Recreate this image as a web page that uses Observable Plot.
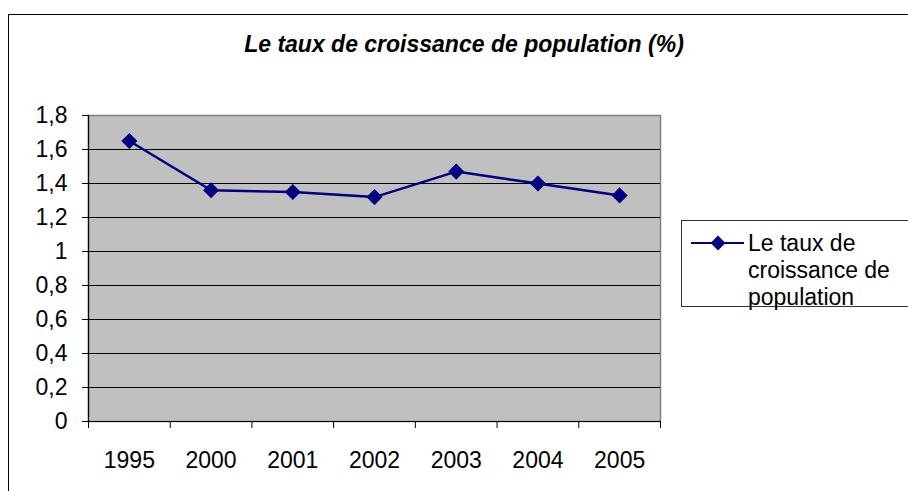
<!DOCTYPE html>
<html>
<head>
<meta charset="utf-8">
<script src="https://cdn.jsdelivr.net/npm/d3@7"></script>
<script src="https://cdn.jsdelivr.net/npm/@observablehq/plot@0.6"></script>
<style>
  html, body { margin: 0; padding: 0; background: #fff; overflow: hidden; }
  #wrap { position: relative; width: 908px; height: 491px; overflow: hidden; font-family: "Liberation Sans", Arial, sans-serif; }
  #border { position: absolute; left: 8px; top: 14px; width: 920px; height: 500px; border: 1px solid #000; box-sizing: border-box; }
  #title { position: absolute; left: 9px; width: 910px; top: 31px; text-align: center; font-size: 23px; line-height: 27px; font-weight: bold; font-style: italic; color: #000; }
  #chart { position: absolute; left: 0; top: 0; }
  #legend { position: absolute; left: 681px; top: 220px; width: 240px; height: 87px; border: 1px solid #333; box-sizing: border-box; background: #fff; }
  #legend svg { position: absolute; left: 0; top: 0; }
  #legend .txt { position: absolute; left: 66px; top: 9px; font-size: 23px; line-height: 27px; color: #000; white-space: nowrap; }
</style>
</head>
<body>
<div id="wrap">
  <div id="border"></div>
  <div id="chart"></div>
  <div id="title"></div>
  <div id="legend"></div>
</div>
<script>
const years = ["1995", "2000", "2001", "2002", "2003", "2004", "2005"];
const rates = [1.65, 1.36, 1.35, 1.32, 1.47, 1.40, 1.33];
const yTicks = [0, 0.2, 0.4, 0.6, 0.8, 1, 1.2, 1.4, 1.6, 1.8];
const titleText = "Le taux de croissance de population (%)";
const seriesName = "Le taux de croissance de population";

const data = years.map((y, i) => ({ idx: i, year: y, value: rates[i] }));
const boundaries = d3.range(years.length + 1).map(i => i - 0.5);
const lineColor = "#000080";

const chart = Plot.plot({
  width: 908,
  height: 491,
  marginLeft: 88,
  marginRight: 248,
  marginTop: 115,
  marginBottom: 70,
  style: { fontFamily: "'Liberation Sans', Arial, sans-serif", fontSize: "23px", background: "transparent", color: "#000" },
  x: { type: "linear", domain: [-0.5, years.length - 0.5] },
  y: { domain: [0, 1.8] },
  marks: [
    Plot.frame({ fill: "#c0c0c0", stroke: "#808080", strokeWidth: 1.5 }),
    Plot.gridY(yTicks.filter(d => d > 0 && d < 1.8), { stroke: "#000", strokeOpacity: 1, strokeWidth: 1 }),
    Plot.ruleY([0], { stroke: "#000", strokeWidth: 1.2 }),
    Plot.ruleX([-0.5], { stroke: "#000", strokeWidth: 1.2 }),
    Plot.axisY({ ticks: yTicks, tickSize: 6, tickPadding: 15, tickFormat: d => String(d).replace(".", ","), label: null, fontSize: 23 }),
    Plot.axisX({ ticks: boundaries, tickSize: 7, tickFormat: () => "", label: null }),
    Plot.axisX({ ticks: d3.range(years.length), tickSize: 0, tickPadding: 30, tickFormat: i => years[i], label: null, fontSize: 23 }),
    Plot.line(data, { x: "idx", y: "value", stroke: lineColor, strokeWidth: 2.5 }),
    Plot.dot(data, { x: "idx", y: "value", symbol: "diamond2", r: 6.3, fill: lineColor, stroke: lineColor })
  ]
});
document.getElementById("chart").appendChild(chart);
document.getElementById("title").textContent = titleText;

// Legend
const legend = document.getElementById("legend");
const sw = d3.create("svg").attr("width", 70).attr("height", 60);
sw.append("line").attr("x1", 9).attr("x2", 62).attr("y1", 22).attr("y2", 22).attr("stroke", lineColor).attr("stroke-width", 2);
sw.append("path").attr("d", d3.symbol(d3.symbolDiamond2, 140)()).attr("transform", "translate(36,22)").attr("fill", lineColor);
legend.appendChild(sw.node());
const txt = document.createElement("div");
txt.className = "txt";
txt.innerHTML = "Le taux de<br>croissance de<br>population";
legend.appendChild(txt);
</script>
</body>
</html>
